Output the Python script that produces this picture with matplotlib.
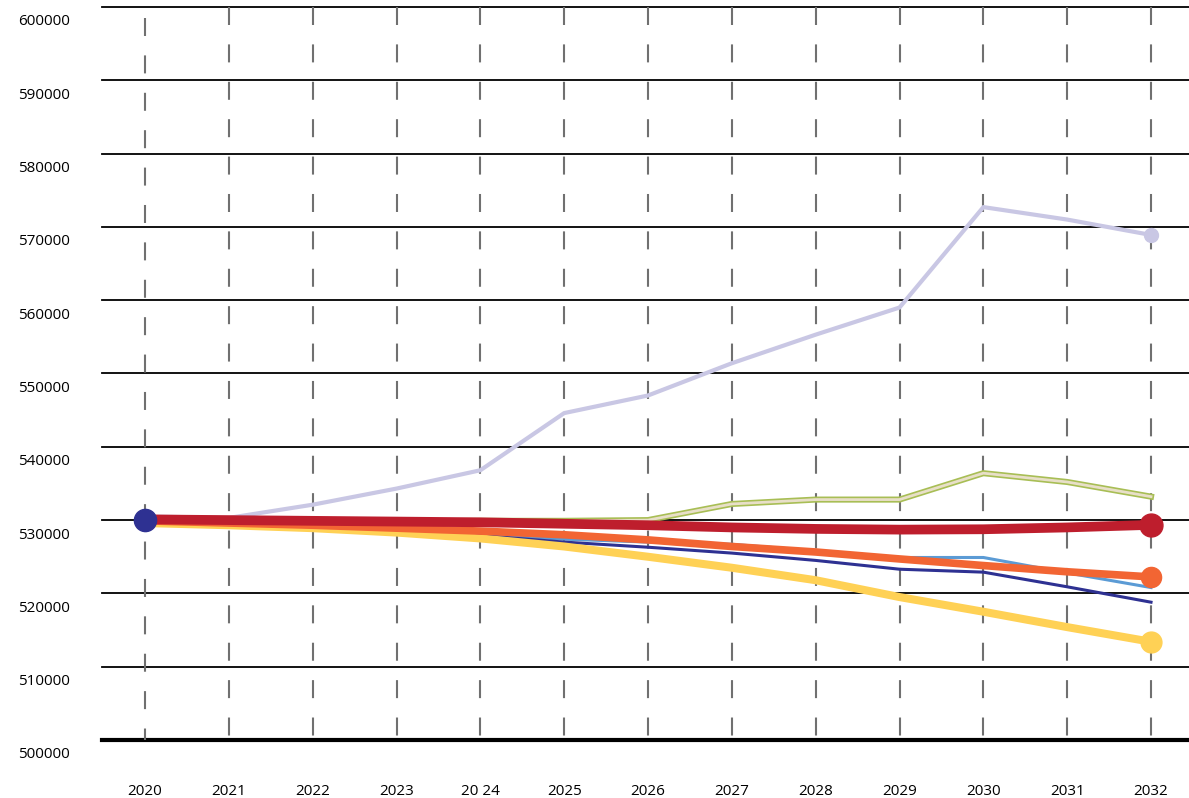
import matplotlib.pyplot as plt
import matplotlib.transforms as mtransforms
import numpy as np

# data
years = list(range(2020, 2033))
year_labels = ["2020", "2021", "2022", "2023", "20 24", "2025", "2026",
               "2027", "2028", "2029", "2030", "2031", "2032"]
y_ticks = [500000, 510000, 520000, 530000, 540000, 550000,
           560000, 570000, 580000, 590000, 600000]

lavender = [530500, 530300, 532100, 534300, 536800, 544600, 547000,
            551400, 555300, 559000, 572700, 571000, 568900]
green = [529600, 529600, 529700, 529800, 529900, 529900, 530000,
         532200, 532800, 532800, 536400, 535200, 533200]
light_blue = [529900, 529500, 529100, 528600, 528000, 527400, 527000,
              526700, 525800, 524900, 524900, 522800, 520800]
navy = [530000, 529700, 529200, 528600, 527900, 527000, 526300,
        525500, 524500, 523300, 522900, 520900, 518800]
yellow = [529600, 529300, 528900, 528300, 527500, 526400, 525000,
          523500, 521800, 519500, 517500, 515400, 513400]
orange = [529900, 529600, 529300, 528900, 528500, 528000, 527300,
          526400, 525650, 524700, 523800, 522950, 522250]
red = [530100, 530000, 529900, 529800, 529700, 529500, 529300,
       529000, 528800, 528700, 528750, 529000, 529350]

plt.rcParams['font.family'] = ['Open Sans', 'DejaVu Sans']

fig = plt.figure(figsize=(11.89, 7.98), dpi=100)
ax = fig.add_axes([102 / 1189, 1 - 740 / 798, 1 - 102 / 1189, 733 / 798])

ax.set_xlim(2019.487, 2032.453)
ax.set_ylim(500000, 600000)

# grid
for y in y_ticks:
    lw = 3.0 if y == 500000 else 1.3
    ax.axhline(y, color='black', lw=lw, zorder=1, clip_on=False)
for x in years:
    # drawn top to bottom so the dash pattern starts at the top edge
    top = 598500 if x == 2020 else 600000
    ax.plot([x, x], [top, 500000], color='#707070', lw=1.5,
            ls=(0, (8.64, 9.31)), zorder=1)

# series
ax.plot(years, lavender, color='#c9c7e4', lw=3, zorder=2, solid_capstyle='round')
ax.plot(years[-1], lavender[-1], 'o', color='#c9c7e4', ms=10, zorder=2)
ax.plot(years, green, color='#a8be55', lw=4.4, zorder=3)
ax.plot(years, green, color='#e8dfc8', lw=2.0, zorder=3)
ax.plot(years, light_blue, color='#5b9bd5', lw=2.2, zorder=4)
ax.plot(years, navy, color='#2e3192', lw=2.2, zorder=5)
ax.plot(years, yellow, color='#ffd155', lw=5.8, zorder=6)
ax.plot(years[-1], yellow[-1], 'o', color='#ffd155', ms=15, zorder=6)
ax.plot(years, orange, color='#f26533', lw=5.5, zorder=7)
ax.plot(years[-1], orange[-1], 'o', color='#f26533', ms=14.5, zorder=7)
ax.plot(years, red, color='#be1e2d', lw=7, zorder=8)
ax.plot(years[-1], red[-1], 'o', color='#be1e2d', ms=16.5, zorder=8)
ax.plot(years[0], navy[0], 'o', color='#2e3192', ms=16, zorder=9)

# ticks and labels
ax.set_xticks(years)
ax.set_xticklabels(year_labels, fontsize=11)
ax.set_yticks(y_ticks)
ax.set_yticklabels([str(v) for v in y_ticks], fontsize=11)
ax.tick_params(axis='both', length=0)
ax.tick_params(axis='x', pad=32)
ax.tick_params(axis='y', pad=23)
shift = mtransforms.ScaledTranslation(0, -13 / 100, fig.dpi_scale_trans)
for lab in ax.get_yticklabels():
    lab.set_transform(lab.get_transform() + shift)

for s in ax.spines.values():
    s.set_visible(False)

fig.savefig('out.png', dpi=100)
